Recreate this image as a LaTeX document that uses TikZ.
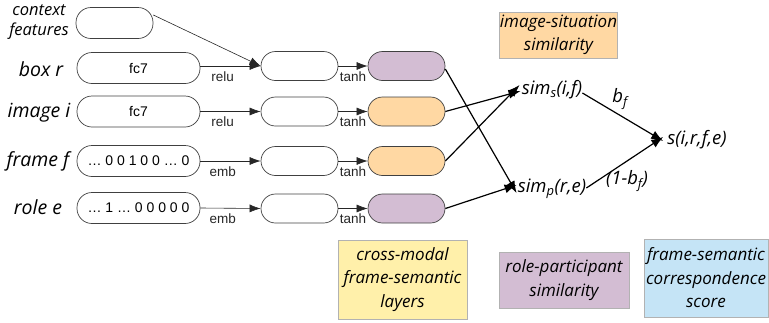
\documentclass[tikz,border=0pt]{standalone}
\usepackage{fontspec}
\setmainfont{Open Sans}
\newfontfamily\arialf{Liberation Sans}
\usetikzlibrary{arrows.meta,positioning}
\definecolor{cpurple}{RGB}{211,189,211}
\definecolor{corange}{RGB}{255,216,163}
\definecolor{cyellow}{RGB}{255,240,170}
\definecolor{cblue}{RGB}{197,228,246}
\begin{document}
\begin{tikzpicture}[x=1pt,y=-1pt,
  inbox/.style={draw=black!75, line width=0.7pt, rounded corners=15pt, minimum width=123pt, minimum height=31pt, inner sep=0pt, font=\arialf\fontsize{14}{16}\selectfont},
  midbox/.style={draw=black!75, line width=0.7pt, rounded corners=14.5pt, minimum width=77pt, minimum height=29pt, inner sep=0pt},
  rowlab/.style={font=\itshape\fontsize{19.5}{22}\selectfont, inner sep=0pt},
  smalllab/.style={font=\arialf\fontsize{13.5}{15}\selectfont, inner sep=0pt},
  mathlab/.style={font=\itshape\fontsize{18.5}{20}\selectfont, inner sep=0pt},
  legend/.style={draw=black!30, line width=0.5pt, align=center, inner sep=0pt, font=\itshape\fontsize{17}{23.5}\selectfont},
  arr/.style={-{Latex[length=11pt,width=8pt]}, line width=0.6pt, black!85},
  barr/.style={-{Latex[length=12pt,width=9pt]}, line width=1.2pt, black},
]
\useasboundingbox (0,0) rectangle (769,322);

% left labels
\node[font=\itshape\fontsize{16.5}{20}\selectfont, align=center, inner sep=0pt] (lctx) at (39,22) {context\\features};
\node[rowlab] (lbox) at (41,69) {box r};
\node[rowlab] (limg) at (39,113) {image i};
\node[rowlab] (lfrm) at (38,161) {frame f};
\node[rowlab] (lrole) at (38,207) {role e};

% input boxes
\node[inbox, minimum width=77pt] (ctx) at (114.5,23) {};
\node[inbox] (in1) at (138.5,68) {fc7};
\node[inbox] (in2) at (138.5,111.5) {fc7};
\node[inbox] (in3) at (138.5,161) {\ldots{} 0 0 1 0 0 \ldots{} 0};
\node[inbox] (in4) at (138.5,208) {\ldots{} 1 \ldots{} 0 0 0 0 0};

% middle boxes
\node[midbox] (m1) at (299.5,66) {};
\node[midbox] (m2) at (299.5,111.5) {};
\node[midbox] (m3) at (299.5,161) {};
\node[midbox] (m4) at (299.5,208.5) {};

% coloured boxes
\node[midbox, fill=cpurple] (c1) at (406.5,66) {};
\node[midbox, fill=corange] (c2) at (406.5,111.5) {};
\node[midbox, fill=corange] (c3) at (406.5,161) {};
\node[midbox, fill=cpurple] (c4) at (406.5,208.5) {};

% arrows input -> middle
\draw[arr] ([yshift=8pt]ctx.east) -- (m1.west);
\draw[arr] (in1.east |- m1.west) -- (m1.west) node[smalllab, pos=0.37, below=5pt] (t1) {relu};
\draw[arr] (in2.east) -- (m2.west) node[smalllab, pos=0.37, below=5pt] (t2) {relu};
\draw[arr] (in3.east) -- (m3.west) node[smalllab, pos=0.37, below=5pt] (t3) {emb};
\draw[arr] (in4.east) -- (m4.west) node[smalllab, pos=0.37, below=5pt] (t4) {emb};

% middle -> coloured
\foreach \i in {1,2,3,4}{
  \draw[arr] (m\i.east) -- (c\i.west) node[smalllab, midway, below=5pt] {tanh};
}

% similarity nodes
\node[mathlab] (simS) at (552,90) {sim\textsubscript{s}(i,f)};
\node[mathlab] (simP) at (552,189) {sim\textsubscript{p}(r,e)};
\node[mathlab] (S) at (697,140) {s(i,r,f,e)};

\draw[barr] ([yshift=-3pt]c1.east) -- ([xshift=-1pt,yshift=-4pt]simP.west);
\draw[barr] (c4.east) -- ([xshift=-1pt,yshift=4pt]simP.west);
\draw[barr] (c2.east) -- ([xshift=-1pt,yshift=-1pt]simS.west);
\draw[barr] (c3.east) -- ([xshift=-2pt,yshift=5pt]simS.west);

\draw[barr] ([yshift=-3pt]simS.east) -- ([xshift=-4pt,yshift=-1pt]S.west)
  node[mathlab, pos=0.4, anchor=south west, xshift=-3pt, yshift=2pt] (bf) {b\textsubscript{f}};
\draw[barr] ([yshift=1pt]simP.east) -- ([xshift=-4pt,yshift=3pt]S.west)
  node[mathlab, pos=0.3, anchor=north west, xshift=-4pt, yshift=3pt] (obf) {(1-b\textsubscript{f})};

% legend boxes
\node[legend, fill=corange, minimum width=118pt, minimum height=46pt] (lg1) at (558.5,35) {image-situation\\similarity};
\node[legend, fill=cyellow, minimum width=129pt, minimum height=79pt] (lg2) at (402.5,279.5) {cross-modal\\frame-semantic\\layers};
\node[legend, fill=cpurple, minimum width=130pt, minimum height=56pt] (lg3) at (564,280) {role-participant\\similarity};
\node[legend, fill=cblue, minimum width=124pt, minimum height=78pt] (lg4) at (706,278) {frame-semantic\\correspondence\\score};
\end{tikzpicture}
\end{document}
